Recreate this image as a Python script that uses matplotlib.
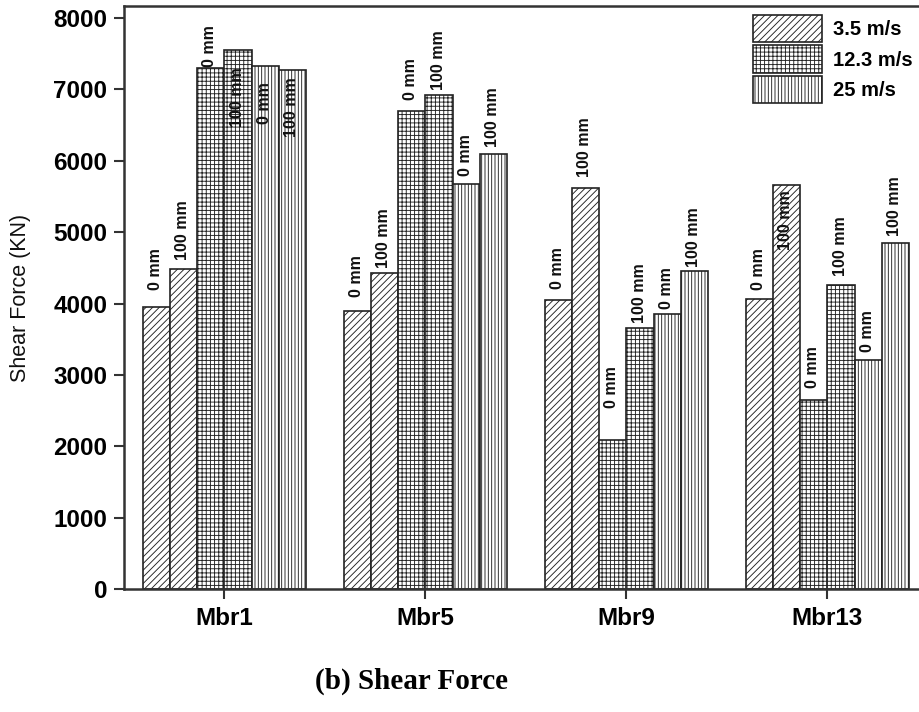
import numpy as np
import matplotlib
matplotlib.use("Agg")
import matplotlib.pyplot as plt

plt.rcParams["font.family"] = ["Liberation Sans", "DejaVu Sans"]
plt.rcParams["hatch.linewidth"] = 0.65

# data
members = ["Mbr1", "Mbr5", "Mbr9", "Mbr13"]
speeds = ["3.5 m/s", "12.3 m/s", "25 m/s"]
gaps = ["0 mm", "100 mm"]

sf_35_0 = [3950, 3890, 4050, 4070]
sf_35_100 = [4480, 4430, 5620, 5660]
sf_123_0 = [7300, 6700, 2090, 2650]
sf_123_100 = [7550, 6920, 3660, 4260]
sf_25_0 = [7330, 5680, 3860, 3210]
sf_25_100 = [7280, 6100, 4450, 4850]

yticks = [0, 1000, 2000, 3000, 4000, 5000, 6000, 7000, 8000]

series = [sf_35_0, sf_35_100, sf_123_0, sf_123_100, sf_25_0, sf_25_100]
hatches = ["/////", "/////", "++++", "++++", "|||||", "|||||"]

# vertical nudge (pixels) of each "mm" label from its bar top, per member
label_nudge = [
    [17, 9, 1, -77, -58, -67],
    [14, 5, 11, 5, 8, 7],
    [11, 11, 32, 5, 5, 4],
    [9, -65, 12, 9, 8, 7],
]

fig = plt.figure(figsize=(9.2, 7.12), dpi=100)
ax = fig.add_axes([124 / 920, 123 / 712, (928 - 124) / 920, (589 - 6) / 712])

x = np.arange(len(members))
w = 0.135
handles = []
for j, vals in enumerate(series):
    pos = x + (j - 2.5) * w
    bars = ax.bar(pos, vals, width=w, facecolor="white", edgecolor="#222222",
                  linewidth=1.2, hatch=hatches[j], zorder=2)
    if j % 2 == 0:
        handles.append(bars)
    for i, b in enumerate(bars):
        ax.annotate(gaps[j % 2], (b.get_x() + b.get_width() / 2, b.get_height()),
                    xytext=(-1, label_nudge[i][j]), textcoords="offset pixels",
                    rotation=90, ha="center", va="bottom",
                    fontsize=11.5, fontweight="bold", color="#111111", zorder=3)

ax.set_xlim(-0.5, 3.5)
ax.set_ylim(0, 8170)
ax.set_xticks(x)
ax.set_xticklabels(members, fontsize=17.5, fontweight="bold")
ax.set_yticks(yticks)
ax.set_yticklabels([str(v) for v in yticks], fontsize=17.5, fontweight="bold")
ax.tick_params(axis="both", direction="out", length=7, width=1.5, color="#333333")
ax.tick_params(axis="x", pad=6)
ax.tick_params(axis="y", pad=5)
for s in ax.spines.values():
    s.set_linewidth(1.8)
    s.set_color("#333333")

fig.text(21 / 920, 1 - 298 / 712, "Shear Force (KN)", rotation=90,
         ha="center", va="center", fontsize=15.5, color="#111111")

leg = ax.legend(handles, speeds, loc="upper left",
                bbox_to_anchor=(753 / 920, 1 - 15 / 712), bbox_transform=fig.transFigure,
                frameon=False, borderpad=0, borderaxespad=0,
                handlelength=3.45, handleheight=1.72, labelspacing=0.15,
                handletextpad=0.5, prop={"size": 14.5, "weight": "bold"})

fig.text(412 / 920, 1 - 681 / 712, "(b) Shear Force", ha="center", va="center",
         fontsize=21, fontweight="bold", family="Liberation Serif")

fig.savefig("out.png", dpi=100)
